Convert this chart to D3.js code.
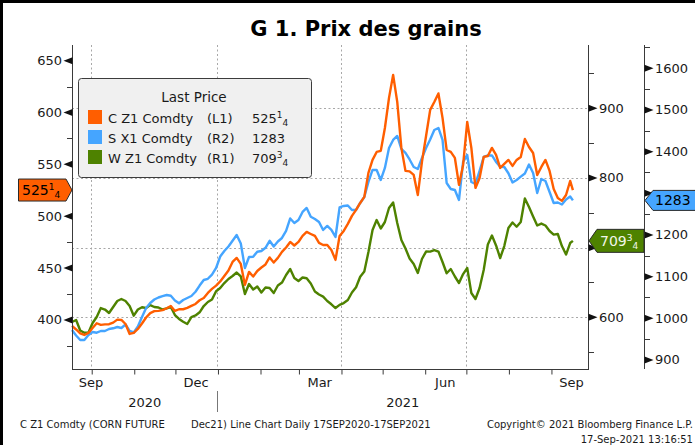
<!DOCTYPE html>
<html>
<head>
<meta charset="utf-8">
<script src="https://cdn.jsdelivr.net/npm/d3@7"></script>
<style>
  body { margin: 0; background: #fff; }
  svg { display: block; }
  text { font-family: "DejaVu Sans", sans-serif; fill: #1a1a1a; }
</style>
</head>
<body>
<svg id="chart" width="695" height="445"></svg>
<script>
// prices, one point every 3 days from 17 Sep 2020, last point 17 Sep 2021
const startDate = "2020-09-17";
const lastDate = "2021-09-17";
const axisEndDate = "2021-09-28";

// C Z1 Comdty (corn, left axis)
const cornValues = [394.2, 390.8, 387.0, 385.5, 387.5, 392.3, 396.8, 395.2, 395.7, 395.9,
  397.4, 400.3, 400.0, 396.1, 386.5, 387.5, 391.3, 396.6, 402.4, 406.6,
  408.5, 408.7, 409.5, 411.3, 413.5, 408.7, 410.3, 410.3, 411.6, 413.5,
  415.4, 419.0, 421.2, 426.0, 429.9, 433.1, 437.1, 442.4, 447.7, 455.9,
  459.8, 454.0, 433.8, 446.3, 441.9, 447.2, 450.6, 453.5, 460.3, 455.4,
  459.8, 465.6, 469.9, 475.2, 471.8, 475.2, 481.0, 484.9, 482.9, 481.0,
  474.3, 472.3, 472.3, 467.5, 457.9, 481.0, 485.8, 492.6, 500.3, 506.1,
  512.8, 518.6, 541.8, 554.3, 562.0, 563.0, 585.1, 614.1, 636.3, 610.2,
  565.9, 543.7, 543.2, 539.8, 520.5, 552.4, 577.4, 602.5, 610.2, 618.4,
  594.8, 563.9, 562.0, 556.2, 530.2, 549.5, 590.9, 565.9, 527.3, 536.9,
  557.2, 558.1, 565.9, 559.1, 546.6, 550.4, 554.3, 548.5, 554.3, 557.2,
  574.5, 566.8, 561.0, 539.8, 547.5, 554.3, 543.7, 526.3, 517.6, 514.8,
  520.5, 534.0, 525.25];

// S X1 Comdty (soybeans, right axis R2)
const soyValues = [972.0, 958.8, 948.0, 948.0, 960.0, 967.2, 965.5, 969.6, 969.6, 974.4,
  976.1, 979.2, 976.8, 985.2, 969.6, 966.0, 980.4, 1003.2, 1024.8, 1036.8,
  1045.2, 1050.0, 1053.1, 1056.0, 1054.1, 1042.8, 1036.1, 1044.0, 1048.8, 1053.6,
  1063.7, 1078.6, 1092.0, 1094.9, 1105.0, 1120.8, 1148.4, 1161.6, 1172.4, 1186.1,
  1200.0, 1179.6, 1120.8, 1147.2, 1147.7, 1159.9, 1161.6, 1169.3, 1186.1, 1172.4,
  1184.4, 1192.8, 1209.6, 1239.6, 1228.8, 1236.0, 1255.2, 1264.8, 1243.9, 1238.4,
  1231.2, 1212.0, 1221.6, 1212.0, 1195.2, 1266.0, 1269.6, 1270.8, 1260.0, 1260.0,
  1276.8, 1291.2, 1327.2, 1356.0, 1356.0, 1332.0, 1360.8, 1408.8, 1428.0, 1437.6,
  1406.4, 1396.8, 1381.2, 1363.2, 1358.4, 1384.8, 1408.8, 1429.2, 1452.0, 1456.8,
  1428.0, 1324.8, 1310.4, 1308.0, 1284.0, 1375.2, 1392.0, 1327.2, 1322.4, 1353.6,
  1387.2, 1390.8, 1390.8, 1375.2, 1363.9, 1363.2, 1348.1, 1326.0, 1332.0, 1339.9,
  1347.6, 1369.2, 1348.8, 1300.8, 1334.4, 1329.6, 1303.2, 1276.8, 1278.0, 1273.2,
  1285.2, 1292.4, 1283];

// W Z1 Comdty (wheat, right axis R1)
const wheatValues = [593.3, 596.1, 581.1, 577.8, 578.2, 591.8, 600.4, 613.3, 611.2, 606.2,
  614.8, 623.4, 626.3, 623.4, 616.2, 602.3, 611.2, 614.4, 613.3, 617.5,
  614.8, 614.1, 611.2, 612.9, 614.8, 603.3, 597.6, 593.7, 590.4, 600.4,
  602.6, 607.2, 616.2, 622.0, 625.5, 637.5, 642.1, 649.2, 655.0, 659.3,
  664.3, 658.6, 633.4, 647.8, 639.9, 644.2, 635.6, 642.8, 642.1, 634.9,
  645.6, 649.9, 660.7, 669.3, 656.4, 652.1, 657.1, 656.0, 648.5, 637.0,
  632.7, 629.7, 623.4, 618.7, 613.3, 617.9, 620.5, 624.8, 635.6, 643.1,
  658.3, 665.7, 693.7, 725.3, 739.7, 727.5, 736.8, 756.9, 764.8, 735.3,
  710.9, 698.7, 684.4, 676.5, 663.6, 683.7, 694.4, 694.3, 696.6, 694.4,
  679.4, 663.2, 669.3, 658.6, 649.2, 662.1, 670.8, 634.9, 626.3, 642.1,
  667.9, 704.5, 717.4, 703.1, 685.1, 702.3, 728.2, 736.1, 730.0, 736.8,
  770.5, 758.3, 744.7, 731.8, 734.6, 731.8, 723.9, 718.7, 719.6, 702.3,
  690.1, 706.6, 709.75];

const legendNames = ["C Z1 Comdty", "S X1 Comdty", "W Z1 Comdty"];
const legendAxes = ["(L1)", "(R2)", "(R1)"];
const legendColors = ["#ff5e00", "#45a5ff", "#4e8200"];

const leftTicks = [400, 450, 500, 550, 600, 650];
const leftMinor = [375, 425, 475, 525, 575, 625];
const r1Ticks = [600, 700, 800, 900];
const r1Minor = [550, 650, 750, 850, 950];
const r2Ticks = [900, 1000, 1100, 1200, 1300, 1400, 1500, 1600];
const r2Minor = [950, 1050, 1150, 1250, 1350, 1450, 1550, 1650];

const footerLeft = "C Z1 Comdty (CORN FUTURE";
const footerMid = "Dec21) Line Chart  Daily 17SEP2020-17SEP2021";
const footerRight = "Copyright\u00a9 2021 Bloomberg Finance L.P.";
const footerStamp = "17-Sep-2021 13:16:51";

// ---- layout
const W = 695, H = 445;
const plot = { left: 72, right: 588, top: 45, bottom: 369 };
const r2X = 644;

const parse = d3.timeParse("%Y-%m-%d");
const t0 = parse(startDate), tLast = parse(lastDate), tEnd = parse(axisEndDate);

const dates = cornValues.map((v, i) => i === cornValues.length - 1 ? tLast : d3.timeDay.offset(t0, 3 * i));

const x = d3.scaleTime().domain([t0, tEnd]).range([plot.left, plot.right]);
const yL = d3.scaleLinear().domain([352.7, 665.1]).range([plot.bottom, plot.top]);
const yR1 = d3.scaleLinear().domain([525.8, 990.9]).range([plot.bottom, plot.top]);
const yR2 = d3.scaleLinear().domain([878.4, 1655.9]).range([plot.bottom, plot.top]);

const lastValues = [cornValues[cornValues.length - 1], soyValues[soyValues.length - 1], wheatValues[wheatValues.length - 1]];
const cy = yL(lastValues[0]);
const sy = yR2(lastValues[1]);
const wy = yR1(lastValues[2]);

const svg = d3.select("#chart");
svg.append("rect").attr("width", W).attr("height", H).attr("fill", "#fff");

// outer frame (only top and left are inside the crop)
svg.append("path")
  .attr("d", `M1.5,${H} V1.5 H${W}`)
  .attr("fill", "none").attr("stroke", "#000").attr("stroke-width", 3);

svg.append("text")
  .attr("x", 366).attr("y", 36)
  .attr("text-anchor", "middle")
  .attr("font-weight", "bold").attr("font-size", 21)
  .style("fill", "#000")
  .text("G 1. Prix des grains");

// ---- grid
const grid = svg.append("g")
  .attr("stroke", "#a8a8a8").attr("stroke-dasharray", "2,2.5").attr("stroke-width", 1);

grid.selectAll(".gv")
  .data(x.ticks(d3.timeMonth.every(3)))
  .join("line")
  .attr("x1", d => Math.round(x(d)) + 0.5).attr("x2", d => Math.round(x(d)) + 0.5)
  .attr("y1", plot.top).attr("y2", plot.bottom);

grid.selectAll(".gh")
  .data(r1Ticks)
  .join("line")
  .attr("x1", plot.left).attr("x2", plot.right)
  .attr("y1", d => Math.round(yR1(d)) + 0.5).attr("y2", d => Math.round(yR1(d)) + 0.5);

// ---- series
const series = [
  { values: wheatValues, y: yR1, color: legendColors[2] },
  { values: soyValues, y: yR2, color: legendColors[1] },
  { values: cornValues, y: yL, color: legendColors[0] }
];

series.forEach(s => {
  const line = d3.line()
    .x((d, i) => x(dates[i]))
    .y(d => s.y(d));
  svg.append("path")
    .attr("d", line(s.values))
    .attr("fill", "none")
    .attr("stroke", s.color)
    .attr("stroke-width", 2.4)
    .attr("stroke-linejoin", "round");
});

// ---- axes lines
const axisColor = "#3a3a3a";
svg.append("g").attr("stroke", axisColor).attr("stroke-width", 1)
  .selectAll("line")
  .data([
    [plot.left + 0.5, plot.top, plot.left + 0.5, plot.bottom],
    [plot.right + 0.5, plot.top, plot.right + 0.5, plot.bottom],
    [r2X + 0.5, plot.top, r2X + 0.5, plot.bottom],
    [plot.left, plot.bottom + 0.5, plot.right + 1, plot.bottom + 0.5]
  ])
  .join("line")
  .attr("x1", d => d[0]).attr("y1", d => d[1]).attr("x2", d => d[2]).attr("y2", d => d[3]);

// tick pointer: small filled triangle from the axis toward the label
function pointers(values, scale, ax, dir) {
  svg.append("g").selectAll("path")
    .data(values)
    .join("path")
    .attr("d", d => {
      const y = scale(d);
      return `M${ax},${y - 3.5} L${ax + dir * 9},${y} L${ax},${y + 3.5} Z`;
    })
    .attr("fill", "#111");
}
function minors(values, scale, ax, dir) {
  svg.append("g").attr("stroke", axisColor)
    .selectAll("line")
    .data(values)
    .join("line")
    .attr("x1", ax).attr("x2", ax + dir * 5)
    .attr("y1", d => Math.round(scale(d)) + 0.5).attr("y2", d => Math.round(scale(d)) + 0.5);
}
// labels that sit under a last-value tag are covered in the original
function labels(values, scale, lx, anchor, tagY) {
  svg.append("g").selectAll("text")
    .data(values.filter(d => tagY === null || Math.abs(scale(d) - tagY) > 13))
    .join("text")
    .attr("x", lx).attr("y", d => scale(d) + 4.5)
    .attr("text-anchor", anchor).attr("font-size", 13)
    .text(d => d);
}

minors(leftMinor, yL, plot.left, -1);
pointers(leftTicks, yL, plot.left + 0.5, -1);
labels(leftTicks, yL, plot.left - 10, "end", null);

minors(r1Minor, yR1, plot.right + 1, 1);
pointers(r1Ticks, yR1, plot.right + 0.5, 1);
labels(r1Ticks, yR1, plot.right + 11, "start", wy);

minors(r2Minor, yR2, r2X + 1, 1);
pointers(r2Ticks, yR2, r2X + 0.5, 1);
labels(r2Ticks, yR2, r2X + 11, "start", sy);

// ---- time axis
const xAxis = d3.axisBottom(x)
  .tickValues(d3.timeMonth.range(d3.timeMonth.ceil(t0), tEnd))
  .tickSize(5).tickSizeOuter(0).tickFormat("");
const gx = svg.append("g").attr("transform", `translate(0.5,${plot.bottom + 0.5})`).call(xAxis);
gx.select(".domain").remove();
gx.selectAll("line").attr("stroke", axisColor);

const monthFmt = d3.timeFormat("%b");
const labelMonths = d3.timeMonth.range(d3.timeMonth.floor(t0), tEnd).filter(m => m.getMonth() % 3 === 2);
svg.append("g").selectAll("text")
  .data(labelMonths)
  .join("text")
  .attr("x", m => {
    const a = m < t0 ? t0 : m;
    const b = d3.timeMonth.offset(m, 1);
    return Math.max((x(a) + x(b)) / 2, plot.left + 19);
  })
  .attr("y", 387)
  .attr("text-anchor", "middle").attr("font-size", 13)
  .text(monthFmt);

const years = d3.timeYear.range(d3.timeYear.floor(t0), tEnd);
svg.append("g").selectAll("text")
  .data(years)
  .join("text")
  .attr("x", yr => {
    const a = yr < t0 ? t0 : yr;
    const nxt = d3.timeYear.offset(yr, 1);
    const b = nxt > tEnd ? tEnd : nxt;
    return (x(a) + x(b)) / 2;
  })
  .attr("y", 407)
  .attr("text-anchor", "middle").attr("font-size", 13)
  .text(d3.timeFormat("%Y"));

years.slice(1).forEach(yr => {
  svg.append("line")
    .attr("x1", Math.round(x(yr)) + 0.5).attr("x2", Math.round(x(yr)) + 0.5)
    .attr("y1", 391).attr("y2", 412)
    .attr("stroke", "#777");
});

// ---- price text with Bloomberg style fractions (e.g. 525 1/4)
function price(sel, v) {
  const whole = Math.floor(v);
  const frac = Math.round((v - whole) * 4);
  sel.append("tspan").text(whole);
  if (frac > 0) {
    sel.append("tspan").attr("font-size", 9).attr("dy", -5).text(frac);
    sel.append("tspan").attr("font-size", 9).attr("dy", 8).text(4);
  }
}

// ---- legend
const lg = svg.append("g");
lg.append("rect")
  .attr("x", 78.5).attr("y", 78.5).attr("width", 233).attr("height", 99).attr("rx", 3)
  .attr("fill", "#f0f0f0").attr("stroke", "#3c3c3c");
lg.append("text").attr("x", 194).attr("y", 102).attr("text-anchor", "middle").attr("font-size", 13.5).text("Last Price");

legendNames.forEach((name, i) => {
  const yy = 110 + i * 20;
  lg.append("rect").attr("x", 88).attr("y", yy).attr("width", 14).attr("height", 14).attr("fill", legendColors[i]);
  lg.append("text").attr("x", 108).attr("y", yy + 13).attr("font-size", 13).text(name);
  lg.append("text").attr("x", 207).attr("y", yy + 13).attr("font-size", 13).text(legendAxes[i]);
  const t = lg.append("text").attr("x", 252).attr("y", yy + 13).attr("font-size", 13);
  price(t, lastValues[i]);
});

// ---- last value tags on the axes
function tag(points, fill, textX, textY, v, textColor) {
  svg.append("path")
    .attr("d", "M" + points.map(p => p.join(",")).join(" L") + " Z")
    .attr("fill", fill).attr("stroke", "#2a2a2a").attr("stroke-width", 1);
  const t = svg.append("text").attr("x", textX).attr("y", textY).attr("font-size", 14).style("fill", textColor);
  price(t, v);
}

tag([[18.5, cy - 11], [66, cy - 11], [72, cy], [66, cy + 11], [18.5, cy + 11]],
  legendColors[0], 22, cy + 5, lastValues[0], "#000");

tag([[589, wy], [597, wy - 11.5], [644, wy - 11.5], [644, wy + 11.5], [597, wy + 11.5]],
  legendColors[2], 600, wy + 5, lastValues[2], "#f2f7ea");

tag([[645, sy], [653, sy - 10], [700, sy - 10], [700, sy + 10], [653, sy + 10]],
  legendColors[1], 655, sy + 5, lastValues[1], "#000");

// ---- footer
const foot = svg.append("g").attr("font-size", 10);
foot.append("text").attr("x", 20).attr("y", 428).text(footerLeft);
foot.append("text").attr("x", 191).attr("y", 428).text(footerMid);
foot.append("text").attr("x", 693).attr("y", 428).attr("text-anchor", "end").text(footerRight);
foot.append("text").attr("x", 693).attr("y", 443).attr("text-anchor", "end").text(footerStamp);
</script>
</body>
</html>
